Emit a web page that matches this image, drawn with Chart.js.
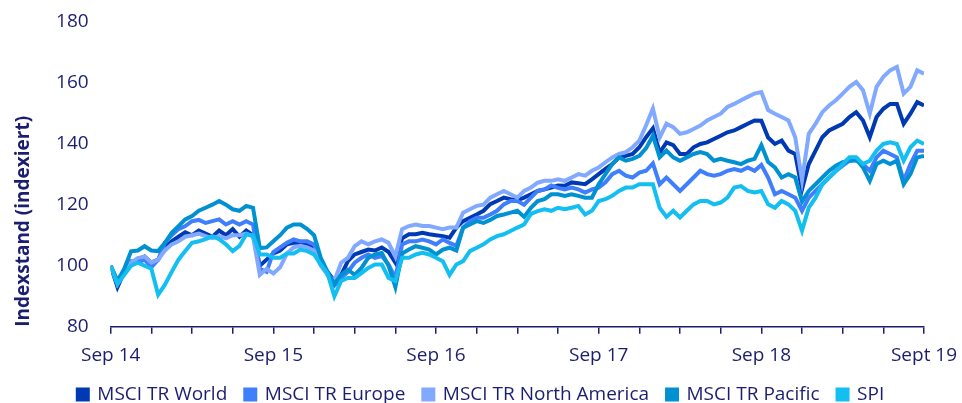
<!DOCTYPE html>
<html>
<head>
<meta charset="utf-8">
<script src="https://cdn.jsdelivr.net/npm/chart.js@4.4.1/dist/chart.umd.min.js"></script>
<style>
  html, body { margin: 0; padding: 0; background: #fff; }
  #wrap { width: 962px; height: 403px; position: relative; }
</style>
</head>
<body>
<div id="wrap"><canvas id="chart"></canvas></div>
<script>
// x positions: months since end of Sep 2014, one point every half month
const months = [];
for (let i = 0; i <= 120; i++) months.push(i / 2);

const tickLabels = ["Sep 14", "Sep 15", "Sep 16", "Sep 17", "Sep 18", "Sept 19"];
const seriesNames = ["MSCI TR World", "MSCI TR Europe", "MSCI TR North America", "MSCI TR Pacific", "SPI"];

const world = [
    100, 93, 98, 101, 102, 103, 101, 102, 106, 108, 109.5, 111, 110, 111.5, 110.5, 109.5,
    111.5, 110, 112, 109.5, 111.5, 110, 100, 102, 104, 105, 107, 107.5, 107.5, 107, 106, 101,
    98, 95, 97, 101.5, 103.7, 104.5, 105.3, 105, 106, 104.5, 101, 109, 110.3, 110.3, 110.8, 110.3,
    110, 109.7, 109.2, 112.5, 114.6, 115.7, 116.8, 118, 120.2, 121.2, 122.3, 121.8, 121.5, 122.3, 123.4, 124.5,
    125, 125.6, 126.3, 126.2, 127.3, 127, 126.7, 128.3, 130, 131.7, 133.3, 135.5, 136, 136.6, 138.8, 142.1,
    145, 137, 140.4, 139.5, 136.6, 136.6, 138.8, 139.9, 140.4, 141.5, 142.6, 143.7, 144.3, 145.4, 146.5, 147.6,
    147.5, 142, 139.9, 141, 137.7, 136.6, 125, 133.3, 137.7, 142.1, 144.3, 145.4, 146.5, 148.7, 150.3, 147.6,
    142.1, 148.7, 151.4, 153, 153, 146.5, 149.8, 153.6, 152.5
];
const europe = [
    100, 95, 98, 101.5, 101, 102, 99.5, 102, 107.5, 110, 112, 113, 114.6, 115, 114, 114.6,
    115.2, 113.5, 114.6, 113.5, 114.6, 113.5, 99, 98, 104.5, 106, 107.5, 108.6, 108, 108, 107, 101.5,
    97, 93.5, 96, 98, 101, 102.6, 103.7, 102.6, 103.2, 100.4, 96, 107, 108, 108, 108.6, 108,
    107, 108.6, 107.5, 106.5, 112.5, 114.6, 115.7, 115.7, 116.8, 118, 120.1, 121.2, 121.2, 120, 122.3, 124.5,
    125, 126.3, 125.5, 125, 125.6, 125, 124, 125, 125.6, 127.3, 130, 131.1, 129.5, 128.9, 130.5, 131.1,
    133.5, 126.7, 128.9, 126.7, 124.5, 126.7, 128.9, 131.1, 130, 129.5, 130, 131.1, 131.7, 131.1, 132.2, 131.1,
    133, 128.9, 123.4, 124.5, 123.4, 122.3, 118, 122.3, 124.5, 126.7, 128.9, 131.1, 132.8, 134.4, 134.4, 133.3,
    131.1, 135.5, 137.7, 136.6, 135.5, 127.8, 133.3, 137.7, 137.7
];
const northAmerica = [
    100, 94, 98, 101, 102.5, 103, 101, 102, 105, 107, 108, 109.5, 110, 110.5, 109.7, 109,
    109.7, 109, 110, 110, 110.5, 109.5, 97, 99, 97.5, 99.5, 104, 106, 106.5, 106, 105, 100,
    97, 95, 101, 102.6, 106.4, 108, 107, 108, 108.6, 107.5, 103, 112, 113, 113.5, 113, 113,
    112.5, 112, 112.5, 112.5, 117.4, 118.5, 119.6, 120, 122.3, 123.4, 124.5, 123.4, 122.3, 124.5, 125.6, 127.2,
    127.8, 127.8, 128.3, 127.8, 128.9, 130, 129.5, 131.1, 132.2, 133.9, 135.5, 136.6, 137.2, 138.8, 141, 146,
    151.5, 142, 146.5, 145.4, 143.2, 143.7, 144.8, 145.9, 147.6, 148.7, 149.8, 152, 153, 154.2, 155.3, 156.4,
    156.9, 151, 149.8, 148.7, 147.6, 142.1, 128, 143.2, 146.5, 150.3, 152.5, 154.2, 156.4, 158.6, 160.2, 157.5,
    149.8, 158.6, 161.9, 164, 165.1, 156.4, 158.6, 164, 162.9
];
const pacific = [
    100, 95, 99, 104.7, 105, 106.4, 105, 104.8, 107.5, 110.8, 113, 115.2, 116.3, 118, 119, 120,
    121.2, 120, 118.5, 118, 119.6, 119, 105.8, 106, 108, 110, 112.5, 113.5, 113.5, 112, 110, 102.6,
    98, 94, 97, 98.7, 97, 99.3, 102.6, 103.7, 104.2, 100, 93, 104, 105.3, 106.4, 105.9, 105.3,
    103.7, 105.3, 105.9, 105, 112.5, 113.5, 114.6, 114, 115, 116.3, 116.8, 117.4, 118, 116, 119, 121.2,
    121.8, 123.4, 123.4, 122.9, 123.4, 122.9, 122.3, 122.3, 126.7, 130, 133.3, 135.5, 134.4, 135, 136, 138.5,
    142.6, 135.5, 137.7, 135.5, 134.4, 135.5, 136.6, 137.2, 136.6, 134.4, 135, 134.4, 133.9, 133.3, 134.4, 135,
    139.5, 134, 132.2, 128.9, 130, 128.9, 121, 124.5, 126.7, 128.9, 131.1, 132.8, 133.9, 134.4, 135, 132.2,
    127.8, 133.3, 134.4, 133.3, 134.4, 126.7, 130, 135.5, 136
];
const spi = [
    100, 94, 97, 100, 101, 100, 99, 90.5, 93.8, 98, 102, 104.8, 107.5, 108, 108.7, 109.7,
    108.7, 107, 104.8, 106.5, 110.3, 110, 103.7, 103.7, 102.6, 102.6, 104, 104, 105.3, 104.8, 103.7, 100.4,
    97.4, 90, 95, 96, 96, 97.6, 99.3, 100.4, 100.4, 96, 95, 102.6, 102.6, 103.7, 104.2, 103.7,
    102.6, 101.5, 97, 100.4, 101.5, 104.8, 105.9, 107, 108.6, 109.7, 110.3, 111.4, 112.5, 113.5, 117, 117.9,
    118.5, 118, 119, 118.5, 119, 119.6, 116.8, 118, 121.2, 121.8, 122.9, 124.5, 125.6, 125.6, 126.7, 126.7,
    126.7, 119, 116, 118, 115.8, 118, 120.1, 121.2, 121.2, 120.1, 120.7, 122.3, 125.6, 126.1, 124.5, 124,
    124.5, 120.1, 119, 121.2, 120.1, 118, 111.5, 119, 122.3, 126.7, 128.9, 131, 133.3, 135.5, 135.5, 133.3,
    134.4, 137.7, 139.9, 140.4, 139.9, 134.4, 138.8, 141, 139.9
];

const colors = ["#0039b4", "#3f7ffe", "#80a9ff", "#0091d2", "#12bff0"];
const values = [world, europe, northAmerica, pacific, spi];
const textColor = "#1b1e6e";
const fontFamily = "'Open Sans', 'Noto Sans', sans-serif";
const fontSize = 19;

const datasets = values.map((vals, i) => ({
    label: seriesNames[i],
    data: vals.map((v, j) => ({ x: months[j], y: v })),
    borderColor: colors[i],
    backgroundColor: colors[i],
    borderWidth: 4,
    pointRadius: 0,
    tension: 0,
    // later series painted on top, like the original
    order: values.length - 1 - i
}));

new Chart(document.getElementById("chart"), {
    type: "line",
    data: { datasets },
    options: {
        responsive: true,
        maintainAspectRatio: false,
        animation: false,
        layout: { padding: { top: 0, right: 0, left: 0, bottom: -11.1 } },
        plugins: {
            tooltip: { enabled: false },
            legend: {
                position: "bottom",
                labels: {
                    color: textColor,
                    font: { family: fontFamily, size: fontSize },
                    boxWidth: 10,
                    boxHeight: 10,
                    padding: 18,
                    sort: (a, b) => a.datasetIndex - b.datasetIndex
                }
            }
        },
        scales: {
            x: {
                type: "linear",
                min: 0,
                max: 60,
                grid: { drawOnChartArea: false, drawTicks: true, tickLength: 7, color: textColor, lineWidth: 1.5 },
                border: { display: true, color: textColor, width: 1.5 },
                ticks: {
                    stepSize: 3,
                    autoSkip: false,
                    maxRotation: 0,
                    color: textColor,
                    padding: 10,
                    font: { family: fontFamily, size: fontSize },
                    callback: (v) => (v % 12 === 0 ? tickLabels[v / 12] : "")
                },
                afterFit: (scale) => {
                    scale.height = 40.3;
                    scale.paddingRight = 38;
                    scale.paddingLeft = 0;
                }
            },
            y: {
                min: 80,
                max: 180,
                grid: { display: false, drawTicks: false },
                border: { display: false },
                ticks: {
                    stepSize: 20,
                    color: textColor,
                    padding: 22,
                    font: { family: fontFamily, size: fontSize }
                },
                title: {
                    display: true,
                    text: "Indexstand (indexiert)",
                    align: "start",
                    color: textColor,
                    font: { family: fontFamily, size: 19, weight: "bold" },
                    padding: { top: 12, bottom: 0 }
                },
                afterFit: (scale) => {
                    scale.width = 110.7;
                    scale.paddingTop = 21.5;
                    scale.paddingBottom = 0;
                }
            }
        }
    }
});
</script>
</body>
</html>
